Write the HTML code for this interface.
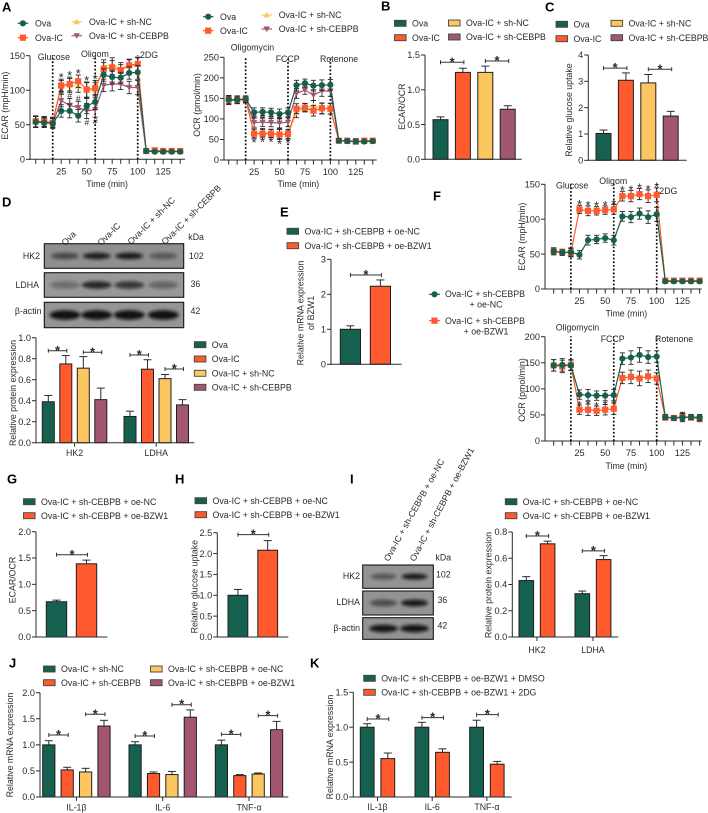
<!DOCTYPE html>
<html lang="en">
<head>
<meta charset="utf-8">
<title>Metabolic assay figure</title>
<style>
html,body{margin:0;padding:0;background:#fff;width:708px;height:813px;overflow:hidden}
svg{display:block;font-family:"Liberation Sans",Arial,sans-serif;fill:#2a2a2a;filter:blur(0.3px)}
text{font-size:8.8px}
</style>
</head>
<body>
<svg id="figure" xmlns="http://www.w3.org/2000/svg" width="708" height="813" viewBox="0 0 708 813">
<defs>
<filter id="band-blur" x="-30%" y="-80%" width="160%" height="260%"><feGaussianBlur stdDeviation="1.6"/></filter>
</defs>
</svg>
<script>
// ---------- shared labels ----------
const timeTicks = ["25","50","75","100","125"];
const timeTickValues = [25,50,75,100,125];
const legendFour = ["Ova","Ova-IC","Ova-IC + sh-NC","Ova-IC + sh-CEBPB"];
const legendOe = ["Ova-IC + sh-CEBPB + oe-NC","Ova-IC + sh-CEBPB + oe-BZW1"];

// ---------- panel A ECAR ----------
const aEcarTicks = ["0","50","100","150"];
const aEcarOva = [54,53,52,70,70,63,77,83,122,119,118,125,126,12,11,11,11,11];
const aEcarIc = [55,55,53,107,109,113,101,103,131,133,129,136,138,12,13,12,12,12];
const aEcarNc = [54,54,54,105,107,106,100,100,135,137,132,135,137,12,12,13,12,12];
const aEcarCebpb = [54,54,52,85,78,75,70,72,107,109,109,104,104,12,12,12,12,12];
const aEcarErr = [8,7,7,9,10,9,11,11,9,10,8,9,10,3,2,2,2,2];

// ---------- panel A OCR ----------
const aOcrTicks = ["0","50","100","150","200","250"];
const aOcrOva = [147,147,148,116,117,116,112,116,182,187,181,182,183,47,46,45,45,46];
const aOcrIc = [147,147,148,64,64,64,62,63,125,127,120,126,125,47,47,45,47,47];
const aOcrNc = [146,147,147,65,67,65,64,62,115,128,132,125,125,47,46,46,46,46];
const aOcrCebpb = [145,146,147,91,92,91,90,92,162,170,158,168,168,47,46,45,45,46];
const aOcrErr = [10,9,8,11,10,10,12,11,12,10,13,13,13,5,5,6,4,4];

// ---------- panel F ECAR ----------
const fEcarTicks = ["0","50","100","150"];
const fEcarNc = [54,52,53,49,70,71,73,70,104,103,108,103,107,11,11,11,11,11];
const fEcarBzw = [54,53,52,114,112,112,113,114,133,133,136,133,135,12,12,12,12,12];
const fEcarErr = [5,4,6,6,7,6,6,7,7,8,8,9,10,2,2,2,2,2];

// ---------- panel F OCR ----------
const fOcrTicks = ["0","50","100","150","200"];
const fOcrNc = [145,146,145,89,88,87,87,88,158,160,165,161,162,46,44,45,46,45];
const fOcrBzw = [145,143,146,60,60,58,60,62,121,123,120,124,120,45,44,47,45,43];
const fOcrErr = [11,12,10,9,11,9,10,11,11,13,14,12,11,5,4,8,5,6];

// ---------- bar panels ----------
const bTicks = ["0.0","0.5","1.0","1.5"];
const bValues = [0.57,1.25,1.25,0.72];
const bErrors = [0.04,0.06,0.09,0.05];
const bSig = [[0,1,1.395],[2,3,1.414]];

const cTicks = ["0","1","2","3","4"];
const cValues = [1.02,3.04,2.94,1.68];
const cErrors = [0.13,0.28,0.32,0.18];
const cSig = [[0,1,3.5],[2,3,3.46]];

const dTicks = ["0.0","0.2","0.4","0.6","0.8","1.0"];
const dCategories = ["HK2","LDHA"];
const dValues = [0.39,0.75,0.71,0.41,0.25,0.70,0.61,0.36];
const dErrors = [0.06,0.08,0.11,0.11,0.05,0.09,0.04,0.05];
const dSig = [[0,1,0.876],[2,3,0.861],[4,5,0.835],[6,7,0.702]];

const eTicks = ["0","1","2","3"];
const eValues = [1.0,2.23];
const eErrors = [0.1,0.18];
const eSig = [[0,1,2.55]];

const gTicks = ["0.0","0.5","1.0","1.5","2.0"];
const gValues = [0.67,1.39];
const gErrors = [0.03,0.07];
const gSig = [[0,1,1.563]];

const hTicks = ["0.0","0.5","1.0","1.5","2.0","2.5"];
const hValues = [1.0,2.08];
const hErrors = [0.14,0.23];
const hSig = [[0,1,2.453]];

const iTicks = ["0.0","0.2","0.4","0.6","0.8"];
const iCategories = ["HK2","LDHA"];
const iValues = [0.43,0.71,0.33,0.59];
const iErrors = [0.03,0.02,0.02,0.03];
const iSig = [[0,1,0.77],[2,3,0.656]];

const jTicks = ["0.0","0.5","1.0","1.5","2.0"];
const jCategories = ["IL-1β","IL-6","TNF-α"];
const jValues = [1.0,0.52,0.48,1.36,1.0,0.45,0.43,1.53,1.0,0.41,0.44,1.29];
const jErrors = [0.08,0.05,0.07,0.11,0.06,0.03,0.06,0.14,0.09,0.02,0.02,0.16];
const jSig = [[0,1,1.19],[2,3,1.587],[4,5,1.17],[6,7,1.77],[8,9,1.2],[10,11,1.56]];

const kTicks = ["0.0","0.5","1.0","1.5"];
const kCategories = ["IL-1β","IL-6","TNF-α"];
const kValues = [1.0,0.55,1.0,0.64,1.0,0.47];
const kErrors = [0.05,0.08,0.07,0.05,0.10,0.04];
const kSig = [[0,1,1.117],[2,3,1.137],[4,5,1.18]];

// ---------- western blot band strengths ----------
const dBlotHk2 = [0.55,0.88,0.9,0.42];
const dBlotLdha = [0.3,0.82,0.7,0.36];
const dBlotActin = [0.97,0.97,0.97,0.97];
const iBlotHk2 = [0.45,0.92];
const iBlotLdha = [0.52,0.9];
const iBlotActin = [0.95,0.95];

// ---------- drawing ----------
const NS = "http://www.w3.org/2000/svg";
const root = document.getElementById("figure");
const GREEN = "#16604f", ORANGE = "#fe5a2d", YELLOW = "#fcc760", PLUM = "#a2566f", INK = "#2b2b2b";
const fourColors = [GREEN, ORANGE, YELLOW, PLUM];
const twoColors = [GREEN, ORANGE];

function node(parent, tag, name, attrs) {
  const el = document.createElementNS(NS, tag);
  
  
  for (const k in attrs) el.setAttribute(k, attrs[k]);
  parent.appendChild(el);
  return el;
}
function line(p, name, x1, y1, x2, y2, color, w, extra) {
  return node(p, "line", name, Object.assign({x1, y1, x2, y2, stroke: color || INK, "stroke-width": w || 1}, extra || {}));
}
function text(p, name, x, yc, str, opts) {
  opts = opts || {};
  const size = opts.size || 8.8;
  const attrs = {x, y: yc + size * 0.35, "text-anchor": opts.anchor || "start"};
  attrs.style = "font-size:" + size + "px;" + (opts.bold ? "font-weight:bold;" : "");
  if (opts.fill) attrs.fill = opts.fill;
  if (opts.rotate !== undefined) attrs.transform = "rotate(" + opts.rotate + " " + x + " " + yc + ")";
  const t = node(p, "text", name, attrs);
  t.textContent = str;
  return t;
}
function group(name) { return node(root, "g", name, {}); }

function yAxis(g, cfg, y) {
  line(g, "y-axis", cfg.axisX, cfg.yTop, cfg.axisX, cfg.yBot + 0.5);
  cfg.ticks.forEach(function (lab) {
    const yy = y(parseFloat(lab));
    line(g, "y-tick", cfg.axisX - 4, yy, cfg.axisX, yy);
    text(g, "y-tick-label", cfg.axisX - 5, yy, lab, {anchor: "end", size: 9.2});
  });
  (Array.isArray(cfg.title) ? cfg.title : [cfg.title]).forEach(function (tt, n) {
    text(g, "y-axis-title", cfg.titleX + n * 10.5, cfg.titleY, tt, {anchor: "middle", rotate: -90});
  });
}

function barChart(cfg) {
  const g = group(cfg.name);
  const y = function (v) { return cfg.yBot - v * (cfg.yBot - cfg.yTop) / cfg.max; };
  const gs = cfg.groupSize || cfg.values.length;
  const left = function (i) { return cfg.first + i * cfg.step + Math.floor(i / gs) * (cfg.groupGap || 0); };
  const center = function (i) { return left(i) + cfg.bw / 2; };
  cfg.values.forEach(function (v, i) {
    const err = cfg.errors[i], top = y(v), c = center(i);
    line(g, "error-bar", c, top, c, y(v + err));
    line(g, "error-cap", c - 4, y(v + err), c + 4, y(v + err));
    node(g, "rect", "bar", {x: left(i), y: top, width: cfg.bw, height: cfg.yBot - top, fill: cfg.colors[i % cfg.colors.length], stroke: "#1f1f1f", "stroke-width": 1});
  });
  yAxis(g, cfg, y);
  line(g, "x-axis", cfg.axisX - 0.5, cfg.yBot, cfg.axisEnd, cfg.yBot);
  (cfg.categories || []).forEach(function (cat, n) {
    const a = center(n * gs), b = center(n * gs + gs - 1), m = (a + b) / 2;
    line(g, "x-tick", m, cfg.yBot, m, cfg.yBot + 4);
    text(g, "x-tick-label", m + (cfg.catShift || 0), cfg.catY, cat, {anchor: "middle"});
  });
  cfg.sig.forEach(function (s) {
    const x1 = center(s[0]), x2 = center(s[1]) + 1, yy = y(s[2]);
    line(g, "significance-bracket", x1, yy, x2, yy, "#333");
    line(g, "bracket-cap", x1, yy - 2, x1, yy + 2, "#333");
    line(g, "bracket-cap", x2, yy - 2, x2, yy + 2, "#333");
    text(g, "significance-star", (x1 + x2) / 2, yy - 0.5, "*", {anchor: "middle", size: 13, bold: true});
  });
}

function marker(g, name, kind, x, y, color) {
  if (kind === "circle") return node(g, "circle", name, {cx: x, cy: y, r: 3.1, fill: color});
  if (kind === "square") return node(g, "rect", name, {x: x - 3.1, y: y - 3.1, width: 6.2, height: 6.2, fill: color});
  const d = kind === "up" ? -1 : 1;
  const pts = [[x - 3.2, y - d * 2.5], [x + 3.2, y - d * 2.5], [x, y + d * 3.1]].map(function (q) { return q.join(","); }).join(" ");
  return node(g, "polygon", name, {points: pts, fill: color});
}

function lineChart(cfg) {
  const g = group(cfg.name);
  const y = function (v) { return cfg.yBot - v * (cfg.yBot - cfg.yTop) / cfg.max; };
  const x = function (t) { return cfg.x0 + t * cfg.xScale; };
  const tOf = function (i) { return i * 25 / 3; };
  yAxis(g, cfg, y);
  line(g, "x-axis", cfg.axisX - 0.5, cfg.yBot, cfg.axisEnd, cfg.yBot);
  for (let i = 0; i < 18; i++) {
    line(g, "x-tick", x(tOf(i)), cfg.yBot, x(tOf(i)), cfg.yBot + 4.5);
  }
  timeTicks.forEach(function (lab, i) {
    text(g, "x-tick-label", x(timeTickValues[i]), cfg.yBot + 12, lab, {anchor: "middle", size: 9.2});
  });
  text(g, "x-axis-title", x(cfg.titleT), cfg.timeY, "Time (min)", {anchor: "middle"});
  cfg.injections.forEach(function (inj) {
    line(g, "injection-line", x(inj), cfg.yBot, x(inj), cfg.yTop - 0.5, "#000", 1.7, {"stroke-dasharray": "1.7 2"});
  });
  cfg.series.forEach(function (s) {
    const sg = node(g, "g", "series-" + s.key, {});
    const pts = s.values.map(function (v, i) { return x(tOf(i)) + "," + y(v); }).join(" ");
    node(sg, "polyline", "series-line", {points: pts, fill: "none", stroke: s.color, "stroke-width": 1.2});
    s.values.forEach(function (v, i) {
      const px = x(tOf(i)), e = cfg.errors[i];
      line(sg, "error-bar", px, y(v - e), px, y(v + e), "#2a2a2a", 0.9);
      line(sg, "error-cap", px - 2.6, y(v + e), px + 2.6, y(v + e), "#2a2a2a", 0.9);
      line(sg, "error-cap", px - 2.6, y(v - e), px + 2.6, y(v - e), "#2a2a2a", 0.9);
    });
    s.values.forEach(function (v, i) {
      marker(sg, "data-point", s.marker, x(tOf(i)), y(v), s.color);
    });
  });
  cfg.marks.forEach(function (m) {
    const src = cfg.series[m.series].values;
    m.idx.forEach(function (i) {
      const e = cfg.errors[i] * m.dir;
      text(g, m.glyph === "*" ? "significance-star" : "significance-hash", x(tOf(i)), y(src[i] + e) - m.dir * m.gap + (m.glyph === "*" ? 1.5 : 0), m.glyph, {anchor: "middle", size: m.glyph === "*" ? 12.5 : 8.5});
    });
  });
  cfg.labels.forEach(function (l) {
    text(g, "injection-label", l[1], l[2], l[0]);
  });
}

function barLegend(name, entries) {
  const g = group(name);
  entries.forEach(function (e) {
    node(g, "rect", "legend-swatch", {x: e[0], y: e[1] - 3, width: 11.6, height: 6, fill: e[3], stroke: "#444", "stroke-width": 0.9});
    text(g, "legend-label", e[0] + 17.5, e[1], e[2]);
  });
}
function lineLegend(name, entries) {
  const g = group(name);
  entries.forEach(function (e) {
    line(g, "legend-line", e[0], e[1], e[0] + 10.5, e[1], e[3], 1.2);
    marker(g, "legend-marker", e[4], e[0] + 5.2, e[1], e[3]);
    text(g, "legend-label", e[5], e[1], e[2]);
  });
}

function blotRow(g, name, box, lanes, strengths, bandW, bandH, bg) {
  const rg = node(g, "g", name, {});
  node(rg, "rect", "blot-background", {x: box[0], y: box[1], width: box[2], height: box[3], fill: bg, stroke: "#161616", "stroke-width": 1.1});
  const cy = box[1] + box[3] / 2;
  strengths.forEach(function (s, i) {
    node(rg, "ellipse", "protein-band", {cx: lanes[i], cy: cy, rx: bandW / 2, ry: bandH / 2, fill: "#0c0c0c", opacity: s, filter: "url(#band-blur)"});
  });
}

// Panel letters
[["A",2,7],["B",381,6],["C",545,7],["D",2,202],["E",280,212],["F",433,196],["G",7,479],["H",175,479],["I",350,479],["J",9,663],["K",310,663]].forEach(function (p) {
  text(root, "panel-label-" + p[0].toLowerCase(), p[1], p[2], p[0], {size: 13, bold: true, fill: "#000"});
});

// A
lineLegend("ecar-legend", [
  [17.7,23.3,legendFour[0],GREEN,"circle",35],
  [17.7,37.7,legendFour[1],ORANGE,"square",35],
  [71.5,21.7,legendFour[2],YELLOW,"up",89],
  [71.5,35.7,legendFour[3],PLUM,"down",89]
]);
lineChart({name:"ecar-chart-a",axisX:30,axisEnd:185,yTop:55.7,yBot:159.3,max:150,ticks:aEcarTicks,title:"ECAR (mpH/min)",titleX:5,titleY:105.7,
  x0:35.7,xScale:1.02,titleT:70,timeY:184,injections:[16.67,58.33,100],errors:aEcarErr,
  series:[{key:"sh-nc",values:aEcarNc,color:YELLOW,marker:"up"},{key:"sh-cebpb",values:aEcarCebpb,color:PLUM,marker:"down"},{key:"ova-ic",values:aEcarIc,color:ORANGE,marker:"square"},{key:"ova",values:aEcarOva,color:GREEN,marker:"circle"}],
  marks:[{glyph:"*",series:2,idx:[3,4,5,6,7],dir:1,gap:3},{glyph:"#",series:1,idx:[3,4,5],dir:1,gap:3},{glyph:"#",series:1,idx:[6,7],dir:-1,gap:4}],
  labels:[["Glucose",37.7,56.7],["Oligom",81,54],["2DG",140,55]]});

lineLegend("ocr-legend", [
  [203,16.7,legendFour[0],GREEN,"circle",220],
  [203,30.7,legendFour[1],ORANGE,"square",220],
  [261.5,15,legendFour[2],YELLOW,"up",278.7],
  [261.5,29,legendFour[3],PLUM,"down",278.7]
]);
lineChart({name:"ocr-chart-a",axisX:224,axisEnd:376.7,yTop:57.3,yBot:160,max:250,ticks:aOcrTicks,title:"OCR (pmol/min)",titleX:196.7,titleY:105,
  x0:228.7,xScale:1.0167,titleT:68.5,timeY:184,injections:[16.67,58.33,100],errors:aOcrErr,
  series:[{key:"sh-nc",values:aOcrNc,color:YELLOW,marker:"up"},{key:"sh-cebpb",values:aOcrCebpb,color:PLUM,marker:"down"},{key:"ova-ic",values:aOcrIc,color:ORANGE,marker:"square"},{key:"ova",values:aOcrOva,color:GREEN,marker:"circle"}],
  marks:[{glyph:"*",series:2,idx:[3,4,5,6,7],dir:-1,gap:3},{glyph:"#",series:1,idx:[3,4,5,6,7],dir:1,gap:2}],
  labels:[["Oligomycin",230.7,47.3],["FCCP",275.7,59],["Rotenone",320,59]]});

// B
barLegend("legend-b", [[394.5,23.3,legendFour[0],GREEN],[394.5,37.7,legendFour[1],ORANGE],[448.5,23,legendFour[2],YELLOW],[448.5,37,legendFour[3],PLUM]]);
barChart({name:"ecar-ocr-bars-b",axisX:425,axisEnd:521.7,yTop:55,yBot:159.3,max:1.5,ticks:bTicks,title:"ECAR/OCR",titleX:401.7,titleY:106.7,values:bValues,errors:bErrors,colors:fourColors,first:433,step:22.4,bw:15,sig:bSig});

// C
barLegend("legend-c", [[556,24.3,legendFour[0],GREEN],[556,38.7,legendFour[1],ORANGE],[611,23.3,legendFour[2],YELLOW],[611,37.7,legendFour[3],PLUM]]);
barChart({name:"glucose-bars-c",axisX:588.3,axisEnd:686.7,yTop:55,yBot:160.3,max:4,ticks:cTicks,title:"Relative glucose uptake",titleX:569,titleY:110,values:cValues,errors:cErrors,colors:fourColors,first:596,step:22.4,bw:15,sig:cSig});

// D blot
(function () {
  const g = group("western-blot-d");
  const lanes = [65,96.7,129.3,163.3];
  blotRow(g,"blot-hk2",[44.3,243.7,139.4,24.6],lanes,dBlotHk2,28,6.5,"#8f8f8f");
  blotRow(g,"blot-ldha",[44.3,272.7,139.4,24.6],lanes,dBlotLdha,30,7.5,"#989898");
  blotRow(g,"blot-actin",[44.3,302.3,139.4,25.4],lanes,dBlotActin,31,9.5,"#959595");
  [["HK2",40,256],["LDHA",39,285],["β-actin",41.5,311]].forEach(function (l) { text(g,"blot-row-label",l[1],l[2],l[0],{anchor:"end"}); });
  [["kDa",188.3,237],["102",189,256],["36",190.5,284],["42",190.5,311]].forEach(function (l) { text(g,"blot-size-label",l[1],l[2],l[0]); });
  [[63,244],[99,244],[129,243],[163,243]].forEach(function (p, i) { text(g,"blot-lane-label",p[0],p[1],legendFour[i],{rotate:-45}); });
})();
barChart({name:"protein-bars-d",axisX:36,axisEnd:194.3,yTop:337.7,yBot:442.7,max:1,ticks:dTicks,title:"Relative protein expression",titleX:12.7,titleY:393,values:dValues,errors:dErrors,colors:fourColors,first:42.3,step:17.5,bw:12,groupSize:4,groupGap:11.7,categories:dCategories,catY:453,sig:dSig});
barLegend("legend-d", [[194.3,344.7,legendFour[0],GREEN],[194.3,359,legendFour[1],ORANGE],[194.3,373.3,legendFour[2],YELLOW],[194.3,387.3,legendFour[3],PLUM]]);

// E
barLegend("legend-e", [[287,231.3,legendOe[0],GREEN],[287,245.7,legendOe[1],ORANGE]]);
barChart({name:"bzw1-bars-e",axisX:331,axisEnd:401.7,yTop:259.3,yBot:364.3,max:3,ticks:eTicks,title:["Relative mRNA expression","of BZW1"],titleX:300.5,titleY:313,values:eValues,errors:eErrors,colors:twoColors,first:340.3,step:30,bw:20.2,sig:eSig});

// F
(function () {
  const g = group("legend-f");
  line(g,"legend-line",429,294.3,440,294.3,GREEN,1.2);
  marker(g,"legend-marker","circle",434.5,294.3,GREEN);
  line(g,"legend-line",429,320.7,440,320.7,ORANGE,1.2);
  marker(g,"legend-marker","square",434.5,320.7,ORANGE);
  text(g,"legend-label",485,294,"Ova-IC + sh-CEBPB",{anchor:"middle"});
  text(g,"legend-label",486,304.3,"+ oe-NC",{anchor:"middle"});
  text(g,"legend-label",485,320.7,"Ova-IC + sh-CEBPB",{anchor:"middle"});
  text(g,"legend-label",486,331.3,"+ oe-BZW1",{anchor:"middle"});
})();
lineChart({name:"ecar-chart-f",axisX:545,axisEnd:701.7,yTop:184.3,yBot:289,max:150,ticks:fEcarTicks,title:"ECAR (mpH/min)",titleX:521.7,titleY:236.7,
  x0:553.7,xScale:1.03,titleT:70.5,timeY:313.3,injections:[16.67,58.33,100],errors:fEcarErr,
  series:[{key:"oe-bzw1",values:fEcarBzw,color:ORANGE,marker:"square"},{key:"oe-nc",values:fEcarNc,color:GREEN,marker:"circle"}],
  marks:[{glyph:"*",series:0,idx:[3,4,5,6,7,8,9,10,11,12],dir:1,gap:2}],
  labels:[["Glucose",556,185.3],["Oligom",599.3,181],["2DG",659.3,190.7]]});
lineChart({name:"ocr-chart-f",axisX:545,axisEnd:701.7,yTop:336.7,yBot:441,max:200,ticks:fOcrTicks,title:"OCR (pmol/min)",titleX:521.7,titleY:390,
  x0:553.7,xScale:1.03,titleT:70.5,timeY:466,injections:[16.67,58.33,100],errors:fOcrErr,
  series:[{key:"oe-bzw1",values:fOcrBzw,color:ORANGE,marker:"square"},{key:"oe-nc",values:fOcrNc,color:GREEN,marker:"circle"}],
  marks:[{glyph:"*",series:0,idx:[3,4,5,6,7],dir:1,gap:1}],
  labels:[["Oligomycin",555.7,327.3],["FCCP",600.7,338.7],["Rotenone",655,338.7]]});

// G
barLegend("legend-g", [[23.5,501.7,legendOe[0],GREEN],[23.5,515.7,legendOe[1],ORANGE]]);
barChart({name:"ecar-ocr-bars-g",axisX:36,axisEnd:107.3,yTop:531.7,yBot:637,max:2,ticks:gTicks,title:"ECAR/OCR",titleX:12.3,titleY:580,values:gValues,errors:gErrors,colors:twoColors,first:46.3,step:30,bw:20.4,sig:gSig});

// H
barLegend("legend-h", [[195,500.7,legendOe[0],GREEN],[195,514.7,legendOe[1],ORANGE]]);
barChart({name:"glucose-bars-h",axisX:217.3,axisEnd:288.3,yTop:532.7,yBot:637,max:2.5,ticks:hTicks,title:"Relative glucose uptake",titleX:194.3,titleY:586.7,values:hValues,errors:hErrors,colors:twoColors,first:228,step:29.8,bw:19.8,sig:hSig});

// I blot
(function () {
  const g = group("western-blot-i");
  const lanes = [383.5,414.5];
  blotRow(g,"blot-hk2",[362.7,565,70.6,23.3],lanes,iBlotHk2,26,6,"#939393");
  blotRow(g,"blot-ldha",[362.7,591,70.6,24],lanes,iBlotLdha,27,7,"#939393");
  blotRow(g,"blot-actin",[362.7,617.7,70.6,21.6],lanes,iBlotActin,29,7.5,"#939393");
  [["HK2",360,576],["LDHA",360,602],["β-actin",360,628]].forEach(function (l) { text(g,"blot-row-label",l[1],l[2],l[0],{anchor:"end"}); });
  [["kDa",435.5,557.3],["102",436,574.3],["36",437.5,600],["42",437.5,625.3]].forEach(function (l) { text(g,"blot-size-label",l[1],l[2],l[0]); });
  text(g,"blot-lane-label",386,560.5,legendOe[0],{rotate:-61});
  text(g,"blot-lane-label",412,560.5,legendOe[1],{rotate:-62});
})();
barLegend("legend-i", [[505.3,501.7,legendOe[0],GREEN],[505.3,515.7,legendOe[1],ORANGE]]);
barChart({name:"protein-bars-i",axisX:512.3,axisEnd:618.3,yTop:532,yBot:637,max:0.8,ticks:iTicks,title:"Relative protein expression",titleX:488.3,titleY:585,values:iValues,errors:iErrors,colors:twoColors,first:519,step:21.3,bw:14.6,groupSize:2,groupGap:13.4,categories:iCategories,catY:650,sig:iSig});

// J
barLegend("legend-j", [[43.5,669,"Ova-IC + sh-NC",GREEN],[43.5,682.7,"Ova-IC + sh-CEBPB",ORANGE],[150.5,669,legendOe[0],YELLOW],[150.5,682.7,legendOe[1],PLUM]]);
barChart({name:"mrna-bars-j",axisX:40,axisEnd:288.3,yTop:692.7,yBot:797,max:2,ticks:jTicks,title:"Relative mRNA expression",titleX:10,titleY:745,values:jValues,errors:jErrors,colors:fourColors,first:42.7,step:18.4,bw:12.2,groupSize:4,groupGap:12.7,categories:jCategories,catY:807.3,sig:jSig});

// K
barLegend("legend-k", [[363.7,678.3,"Ova-IC + sh-CEBPB + oe-BZW1 + DMSO",GREEN],[363.7,692.3,"Ova-IC + sh-CEBPB + oe-BZW1 + 2DG",ORANGE]]);
barChart({name:"mrna-bars-k",axisX:353.3,axisEnd:511.7,yTop:692.3,yBot:797,max:1.5,ticks:kTicks,title:"Relative mRNA expression",titleX:330,titleY:747,values:kValues,errors:kErrors,colors:twoColors,first:360.3,step:20.6,bw:13.8,groupSize:2,groupGap:13.5,categories:kCategories,catY:807,sig:kSig});
</script>
</body>
</html>
